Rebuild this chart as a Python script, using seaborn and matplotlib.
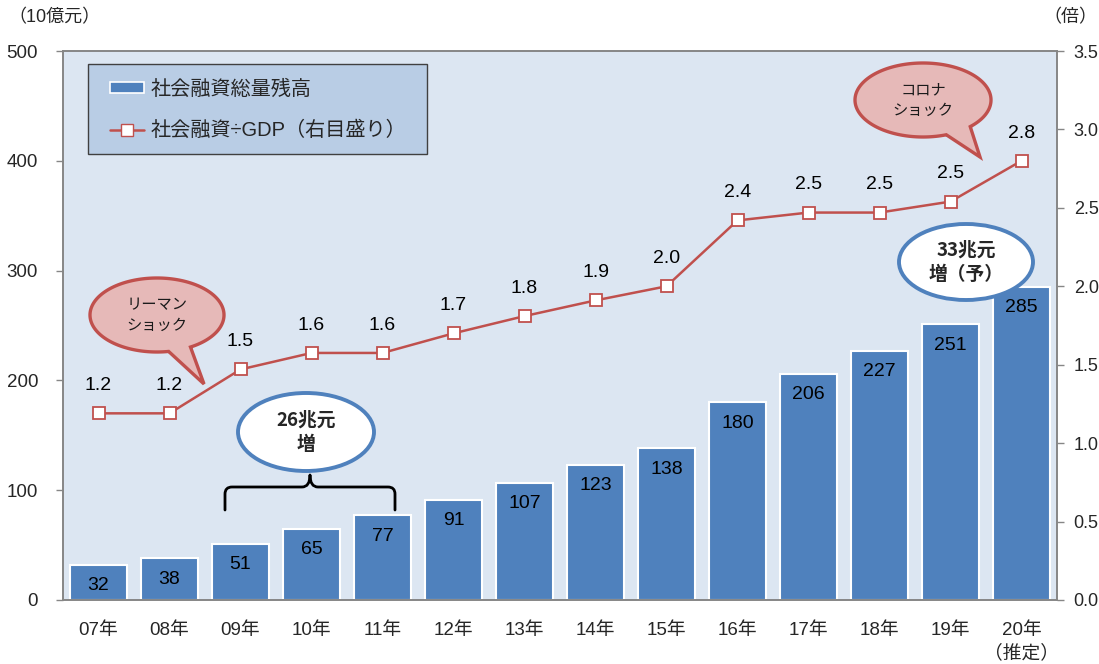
import numpy as np
import pandas as pd
import matplotlib
matplotlib.use("Agg")
import matplotlib.pyplot as plt
import matplotlib.font_manager as fm
from matplotlib.patches import Polygon, Ellipse, Patch, PathPatch, Rectangle
from matplotlib.path import Path
from matplotlib.lines import Line2D
import seaborn as sns

# ---------------- data ----------------
years = ["07年", "08年", "09年", "10年", "11年", "12年", "13年",
         "14年", "15年", "16年", "17年", "18年", "19年", "20年\n（推定）"]
tsf_balance = [32, 38, 51, 65, 77, 91, 107, 123, 138, 180, 206, 227, 251, 285]
tsf_gdp_ratio = [1.19, 1.19, 1.47, 1.575, 1.575, 1.70, 1.81, 1.91, 2.00,
                 2.42, 2.47, 2.47, 2.54, 2.80]
ratio_labels = ["1.2", "1.2", "1.5", "1.6", "1.6", "1.7", "1.8", "1.9", "2.0",
                "2.4", "2.5", "2.5", "2.5", "2.8"]
left_ticks = [0, 100, 200, 300, 400, 500]
right_ticks = [0.0, 0.5, 1.0, 1.5, 2.0, 2.5, 3.0, 3.5]
bar_name = "社会融資総量残高"
line_name = "社会融資÷GDP（右目盛り）"

# ---------------- style ----------------
sns.set_style("white")
names = {f.name for f in fm.fontManager.ttflist}
SANS = "Liberation Sans" if "Liberation Sans" in names else "DejaVu Sans"
CJK = "Noto Sans CJK JP"
plt.rcParams["font.family"] = [SANS, CJK, "DejaVu Sans"]

BLUE = "#4f81bd"
RED = "#c0504d"
BG = "#dce6f2"
SPINE = "#868686"

W, H = 1099, 664
fig = plt.figure(figsize=(W / 100, H / 100), dpi=100)
ax = fig.add_axes([63 / W, 1 - 600 / H, 994 / W, 549 / H])
ax.set_facecolor(BG)


def P(x, y):
    return (x / W, 1 - y / H)


df = pd.DataFrame({"year": years, "balance": tsf_balance, "ratio": tsf_gdp_ratio})

sns.barplot(data=df, x="year", y="balance", ax=ax, color=BLUE, saturation=1,
            width=0.8, edgecolor="white", linewidth=1.5)
ax.set_ylim(0, 500)
ax.set_yticks(left_ticks)
ax.set_xlabel("")
ax.set_ylabel("")

ax2 = ax.twinx()
sns.pointplot(data=df, x="year", y="ratio", ax=ax2, color=RED, markers="s",
              linestyles="-", markersize=8, linewidth=1.8,
              markerfacecolor="white", markeredgecolor=RED, markeredgewidth=1.3)
ax2.set_ylim(0, 3.5)
ax2.set_yticks(right_ticks)
ax2.set_yticklabels([f"{v:.1f}" for v in right_ticks])
ax2.set_xlabel("")
ax2.set_ylabel("")
ax.set_xlim(-0.5, len(years) - 0.5)
ax2.set_xlim(-0.5, len(years) - 0.5)

# ticks & spines
for a in (ax, ax2):
    for s in a.spines.values():
        s.set_color(SPINE)
        s.set_linewidth(1.2)
ax.tick_params(axis="y", which="both", left=True, length=5, width=1, color=SPINE,
               labelsize=13.5, pad=13)
ax2.tick_params(axis="y", right=True, length=5, width=1, color=SPINE,
                labelsize=13, pad=7)
ax.tick_params(axis="x", bottom=False, pad=12)
ax2.tick_params(axis="x", bottom=False, labelbottom=False)
ax.set_xticks(range(len(years)))
ax.set_xticklabels(years, fontsize=13.5, linespacing=1.4)
for t in ax.get_xticklabels():
    t.set_verticalalignment("top")

# bar value labels
for i, v in enumerate(tsf_balance):
    ax.annotate(str(v), xy=(i, v), xytext=(0, -15), textcoords="offset points",
                ha="center", va="center", fontsize=14, color="black", zorder=5)

# line value labels
for i, (v, lab) in enumerate(zip(tsf_gdp_ratio, ratio_labels)):
    ax2.annotate(lab, xy=(i, v), xytext=(0, 20), textcoords="offset points",
                 ha="center", va="center", fontsize=14, color="black")

# legend box and legend
box = Rectangle(P(88, 154), 339 / W, 90 / H, facecolor="#b9cde5",
                edgecolor="#404040", linewidth=1.0, transform=fig.transFigure,
                zorder=4)
ax2.add_patch(box)
handles = [Patch(facecolor=BLUE, edgecolor="white", linewidth=1.2),
           Line2D([0], [0], color=RED, lw=1.8, marker="s", markersize=8,
                  markerfacecolor="white", markeredgecolor=RED)]
leg = ax2.legend(handles, [bar_name, line_name], loc="center left",
                 bbox_to_anchor=P(110, 110), bbox_transform=fig.transFigure,
                 fontsize=14.5, frameon=False, labelspacing=1.1, borderpad=0,
                 handlelength=1.7, handleheight=0.45, handletextpad=0.3,
                 borderaxespad=0)
leg.set_zorder(5)

# axis unit labels
fig.text(*P(8, 18), "（10億元）", fontsize=13, ha="left", va="center")
fig.text(*P(1097, 18), "（倍）", fontsize=13, ha="right", va="center")


# decorations: speech bubbles, ellipses, bracket
def bubble(cx, cy, a, b, ang1, ang2, tip, text):
    t1, t2 = np.deg2rad(ang1), np.deg2rad(ang2)
    lo, hi = min(t1, t2), max(t1, t2)
    ts = np.linspace(hi, lo + 2 * np.pi, 240)
    pts = [P(cx + a * np.cos(t), cy + b * np.sin(t)) for t in ts]
    pts.append(P(*tip))
    poly = Polygon(pts, closed=True, facecolor="#e6b9b8", edgecolor=RED,
                   linewidth=2.4, transform=fig.transFigure, zorder=6,
                   joinstyle="miter")
    fig.add_artist(poly)
    fig.text(*P(cx, cy), text, ha="center", va="center", fontsize=11,
             linespacing=1.3, zorder=7, family=[CJK], color="#1a1a1a")


bubble(157, 315, 67, 37, 60, 80, (204, 384), "リーマン\nショック")
bubble(923, 100, 68, 37, 46, 70, (980, 157), "コロナ\nショック")


def oval(cx, cy, a, b, text):
    e = Ellipse(P(cx, cy), 2 * a / W, 2 * b / H, facecolor="white",
                edgecolor=BLUE, linewidth=2.8, transform=fig.transFigure, zorder=6)
    fig.add_artist(e)
    fig.text(*P(cx, cy), text, ha="center", va="center", fontsize=13.5,
             fontweight="bold", linespacing=1.35, zorder=7, family=[CJK])


oval(306, 432, 68, 39, "26兆元\n増")
oval(966, 262, 67, 38, "33兆元\n増（予）")

verts = [(225, 510), (225, 494), (225, 487), (232, 487), (302, 487),
         (310, 487), (310, 475), (310, 487), (318, 487), (388, 487),
         (395, 487), (395, 494), (395, 510)]
codes = [Path.MOVETO, Path.LINETO, Path.CURVE3, Path.CURVE3, Path.LINETO,
         Path.CURVE3, Path.CURVE3, Path.CURVE3, Path.CURVE3, Path.LINETO,
         Path.CURVE3, Path.CURVE3, Path.LINETO]
bracket = PathPatch(Path([P(*v) for v in verts], codes), facecolor="none",
                    edgecolor="black", linewidth=2, transform=fig.transFigure,
                    zorder=6, capstyle="round", joinstyle="round")
fig.add_artist(bracket)

fig.savefig("out.png", dpi=100, facecolor="white")
